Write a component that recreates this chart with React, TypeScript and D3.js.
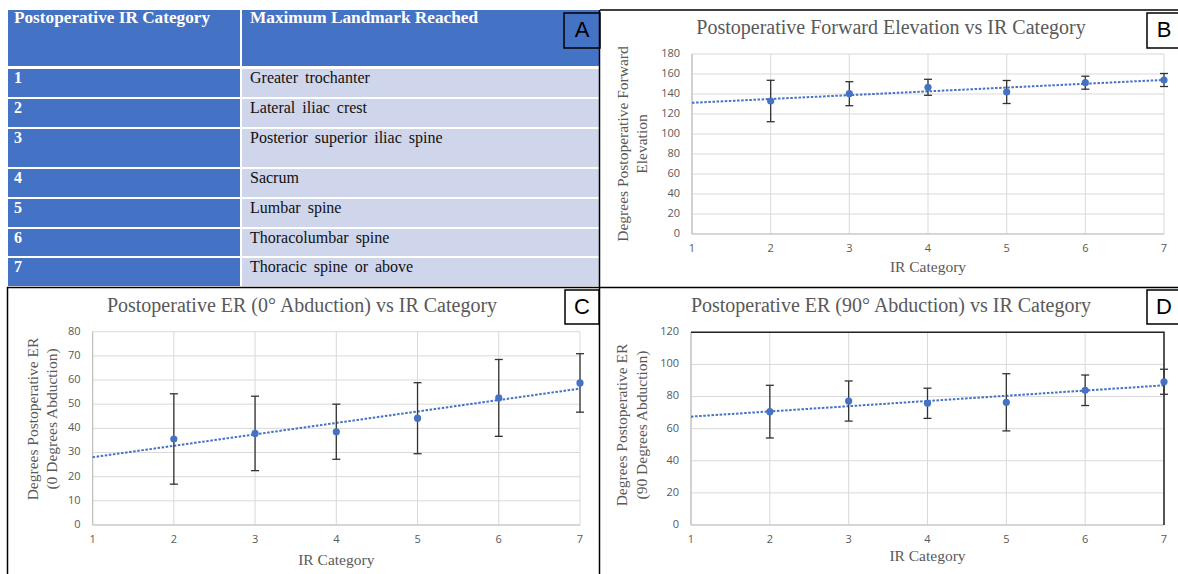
import React from "react";
import * as d3 from "d3";

// ---------- DATA ----------
const tableHeaders = ["Postoperative IR Category", "Maximum Landmark Reached"];
const tableCategories = ["1", "2", "3", "4", "5", "6", "7"];
const landmarks = [
  "Greater trochanter",
  "Lateral iliac crest",
  "Posterior superior iliac spine",
  "Sacrum",
  "Lumbar spine",
  "Thoracolumbar spine",
  "Thoracic spine or above",
];

const irCategories = [2, 3, 4, 5, 6, 7];
const xTicks = [1, 2, 3, 4, 5, 6, 7];

const feMeans = [133, 140.3, 146.7, 142, 151.3, 154];
const feErr = [20.7, 12, 8, 11.5, 6.5, 6.5];

const er0Means = [35.6, 37.9, 38.6, 44.2, 52.6, 58.8];
const er0Err = [18.7, 15.4, 11.4, 14.7, 15.9, 12.1];

const er90Means = [70.6, 77.2, 75.8, 76.4, 83.9, 89.2];
const er90Err = [16.4, 12.5, 9.4, 17.8, 9.5, 7.8];

const yTicksFE = [0, 20, 40, 60, 80, 100, 120, 140, 160, 180];
const yTicksER0 = [0, 10, 20, 30, 40, 50, 60, 70, 80];
const yTicksER90 = [0, 20, 40, 60, 80, 100, 120];

// ---------- STYLE ----------
const BLUE = "#4472C4";
const SERIF = "'Liberation Serif', 'Times New Roman', serif";
const SANS = "'Liberation Sans', Arial, sans-serif";
const TICKFONT = "'Open Sans', 'Liberation Sans', sans-serif";
const GRAY = "#595959";

function regression(xs: number[], ys: number[]) {
  const mx = d3.mean(xs)!;
  const my = d3.mean(ys)!;
  let num = 0;
  let den = 0;
  xs.forEach((x, i) => {
    num += (x - mx) * (ys[i] - my);
    den += (x - mx) * (x - mx);
  });
  const slope = num / den;
  return (x: number) => my + slope * (x - mx);
}

type ChartProps = {
  left: number;
  right: number;
  top: number;
  bottom: number;
  yMax: number;
  yTicks: number[];
  means: number[];
  errs: number[];
  title: string;
  titleX: number;
  titleY: number;
  yTitle: string[];
  yTitleX: number[];
  yTitleY: number;
  xTitleDy: number;
  frame?: boolean;
};

function Chart(p: ChartProps) {
  const x = d3.scaleLinear().domain([1, 7]).range([p.left, p.right]);
  const y = d3.scaleLinear().domain([0, p.yMax]).range([p.bottom, p.top]);
  const fit = regression(irCategories, p.means);
  const trend = d3
    .line<number>()
    .x((d) => x(d))
    .y((d) => y(fit(d)));
  return (
    <g>
      {p.yTicks.map((t) => (
        <line key={"h" + t} x1={p.left} x2={p.right} y1={y(t)} y2={y(t)} stroke="#D9D9D9" strokeWidth={1} />
      ))}
      {xTicks.map((t) => (
        <line key={"v" + t} x1={x(t)} x2={x(t)} y1={p.top} y2={p.bottom} stroke="#D9D9D9" strokeWidth={1} />
      ))}
      <line x1={p.left} x2={p.right} y1={p.bottom} y2={p.bottom} stroke="#BFBFBF" strokeWidth={1.2} />
      <line x1={p.left} x2={p.left} y1={p.top} y2={p.bottom} stroke="#BFBFBF" strokeWidth={1.2} />
      {p.frame && (
        <path d={`M${p.left},${p.top}H${p.right}V${p.bottom}`} fill="none" stroke="#222" strokeWidth={1.5} />
      )}
      {p.yTicks.map((t) => (
        <text
          key={"yl" + t}
          x={p.left - 12}
          y={y(t)}
          textAnchor="end"
          dominantBaseline="middle"
          fontFamily={TICKFONT}
          fontSize={11}
          fill={GRAY}
        >
          {t}
        </text>
      ))}
      {xTicks.map((t) => (
        <text
          key={"xl" + t}
          x={x(t)}
          y={p.bottom + 15}
          textAnchor="middle"
          dominantBaseline="middle"
          fontFamily={TICKFONT}
          fontSize={11}
          fill={GRAY}
        >
          {t}
        </text>
      ))}
      <path d={trend([1, 7])!} fill="none" stroke={BLUE} strokeWidth={2} strokeDasharray="2.5 1.6" />
      {irCategories.map((c, i) => {
        const cx = x(c);
        const y1 = y(p.means[i] + p.errs[i]);
        const y2 = y(p.means[i] - p.errs[i]);
        return (
          <g key={"e" + c}>
            <line x1={cx} x2={cx} y1={y1} y2={y2} stroke="#333" strokeWidth={1.3} />
            <line x1={cx - 4} x2={cx + 4} y1={y1} y2={y1} stroke="#333" strokeWidth={1.3} />
            <line x1={cx - 4} x2={cx + 4} y1={y2} y2={y2} stroke="#333" strokeWidth={1.3} />
            <circle cx={cx} cy={y(p.means[i])} r={3.6} fill={BLUE} />
          </g>
        );
      })}
      <text
        x={p.titleX}
        y={p.titleY}
        textAnchor="middle"
        dominantBaseline="middle"
        fontFamily={SERIF}
        fontSize={20}
        fill={GRAY}
      >
        {p.title}
      </text>
      <text
        x={(p.left + p.right) / 2}
        y={p.bottom + p.xTitleDy}
        textAnchor="middle"
        dominantBaseline="middle"
        fontFamily={SERIF}
        fontSize={15.5}
        fill={GRAY}
      >
        IR Category
      </text>
      {p.yTitle.map((t, i) => (
        <text
          key={"yt" + i}
          transform={`translate(${p.yTitleX[i]},${p.yTitleY}) rotate(-90)`}
          textAnchor="middle"
          dominantBaseline="middle"
          fontFamily={SERIF}
          fontSize={15.5}
          fill={GRAY}
        >
          {t}
        </text>
      ))}
    </g>
  );
}

function LetterBox({ x, y, w, h, label, fill }: { x: number; y: number; w: number; h: number; label: string; fill: string }) {
  return (
    <g>
      <rect x={x} y={y} width={w} height={h} fill={fill} stroke="#000" strokeWidth={1.5} />
      <text
        x={x + w / 2}
        y={y + h / 2 + 1}
        textAnchor="middle"
        dominantBaseline="middle"
        fontFamily={SANS}
        fontSize={22}
        fill="#000"
      >
        {label}
      </text>
    </g>
  );
}

function Table() {
  const rowTops = [69, 99, 129, 169, 199, 229, 258];
  const rowBottoms = [97, 127, 167, 197, 227, 256, 286];
  const L = 8;
  const S = 241;
  const R = 600;
  return (
    <g>
      <rect x={L} y={10} width={R - L} height={56} fill={BLUE} />
      <line x1={S} x2={S} y1={10} y2={66} stroke="#fff" strokeWidth={2} />
      <text x={14} y={23} fontFamily={SERIF} fontWeight="bold" fontSize={16} fill="#fff" textLength={196} lengthAdjust="spacingAndGlyphs">
        {tableHeaders[0]}
      </text>
      <text x={250} y={23} fontFamily={SERIF} fontWeight="bold" fontSize={16} fill="#fff" textLength={228} lengthAdjust="spacingAndGlyphs">
        {tableHeaders[1]}
      </text>
      {tableCategories.map((c, i) => (
        <g key={c}>
          <rect x={L} y={rowTops[i]} width={S - L - 1} height={rowBottoms[i] - rowTops[i]} fill={BLUE} />
          <rect x={S + 1} y={rowTops[i]} width={R - S - 1} height={rowBottoms[i] - rowTops[i]} fill="#CFD5EA" />
          <text x={14} y={rowTops[i] + 14} fontFamily={SERIF} fontWeight="bold" fontSize={16} fill="#fff">
            {c}
          </text>
          <text x={250} y={rowTops[i] + 14} fontFamily={SERIF} fontSize={16} fill="#111" wordSpacing={3}>
            {landmarks[i]}
          </text>
        </g>
      ))}
      <LetterBox x={564} y={13} w={36} h={35} label="A" fill="none" />
    </g>
  );
}

export default function App() {
  return (
    <svg width={1178} height={574} style={{ position: "absolute", left: 0, top: 0, background: "#fff" }}>
      <Table />
      <Chart
        left={692}
        right={1164}
        top={54}
        bottom={234}
        yMax={180}
        yTicks={yTicksFE}
        means={feMeans}
        errs={feErr}
        title="Postoperative Forward Elevation vs IR Category"
        titleX={891}
        titleY={29}
        yTitle={["Degrees Postoperative Forward", "Elevation"]}
        yTitleX={[624, 643.5]}
        yTitleY={144}
        xTitleDy={34}
      />
      <Chart
        left={92.6}
        right={580}
        top={331.7}
        bottom={525}
        yMax={80}
        yTicks={yTicksER0}
        means={er0Means}
        errs={er0Err}
        title="Postoperative ER (0° Abduction) vs IR Category"
        titleX={302}
        titleY={307}
        yTitle={["Degrees Postoperative ER", "(0 Degrees Abduction)"]}
        yTitleX={[34, 53.5]}
        yTitleY={419}
        xTitleDy={36}
      />
      <Chart
        left={691}
        right={1164}
        top={332.3}
        bottom={525}
        yMax={120}
        yTicks={yTicksER90}
        means={er90Means}
        errs={er90Err}
        title="Postoperative ER (90° Abduction) vs IR Category"
        titleX={891}
        titleY={307}
        yTitle={["Degrees Postoperative ER", "(90 Degrees Abduction)"]}
        yTitleX={[623, 643]}
        yTitleY={425}
        xTitleDy={32}
        frame
      />
      {/* panel borders */}
      <line x1={600} x2={1178} y1={10} y2={10} stroke="#000" strokeWidth={1.5} />
      <line x1={599.5} x2={599.5} y1={10} y2={574} stroke="#000" strokeWidth={1.5} />
      <line x1={7} x2={1178} y1={287.5} y2={287.5} stroke="#000" strokeWidth={1.5} />
      <line x1={7.5} x2={7.5} y1={287} y2={574} stroke="#000" strokeWidth={1.5} />
      <LetterBox x={1147} y={13} w={34} h={35} label="B" fill="#fff" />
      <LetterBox x={565} y={290} w={34} h={34} label="C" fill="#fff" />
      <LetterBox x={1147} y={290} w={34} h={34} label="D" fill="#fff" />
    </svg>
  );
}
